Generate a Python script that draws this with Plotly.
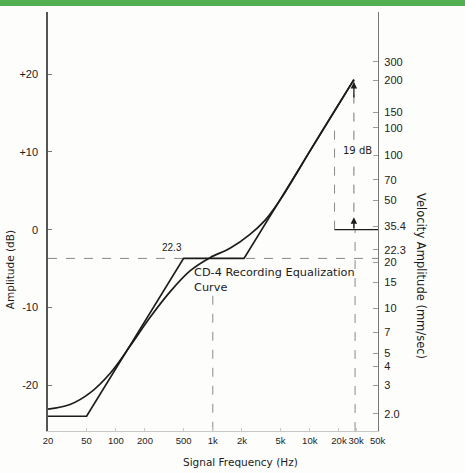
import plotly.graph_objects as go
import math

# ---- data ----
asym_freq = [20, 50, 500, 2100, 28500]
asym_db = [-24.0, -24.0, -3.7, -3.7, 19.3]

smooth_freq = [20, 33.7, 54.2, 87.1, 140, 225, 362, 582, 936, 1504, 2418, 3452, 4931, 7038, 10000, 20000, 28500]
smooth_db = [-23.1, -22.5, -21.0, -18.5, -15.0, -11.3, -8.0, -5.3, -3.6, -2.4, -0.6, 1.2, 3.8, 6.9, 10.1, 16.2, 19.3]

x_tick_vals = [20, 50, 100, 200, 500, 1000, 2000, 5000, 10000, 20000, 30000, 50000]
x_tick_text = ["20", "50", "100", "200", "500", "1k", "2k", "5k", "10k", "20k", "30k", "50k"]

left_tick_vals = [-20, -10, 0, 10, 20]
left_tick_text = ["-20", "-10", "0", "+10", "+20"]

right_tick_db = [21.6, 19.2, 15.1, 13.1, 9.6, 6.4, 3.8, 0.4, -2.6, -4.2, -6.8, -10.1, -13.2, -15.9, -17.6, -20.0, -23.7]
right_tick_text = ["300", "200", "150", "100", "100", "70", "50", "35.4", "22.3", "20", "15", "10", "7", "5", "4", "3", "2.0"]

ref_level_db = -3.7       # 22.3 mm/sec level
zero_level_db = 0.0       # 35.4 mm/sec level
top_db = 19.3
y_range = [-25.9, 28.0]
x_range = [20, 50500]

FONT = "Liberation Sans, Arial, sans-serif"
WIDE = "DejaVu Sans, Verdana, sans-serif"
INK = "#1c1c1c"
GREY = "#8a8a8a"
BG = "#fdfdfb"

fig = go.Figure()

def ref_line(xs, ys, color=GREY, width=1, dash="dash"):
    fig.add_trace(go.Scatter(x=xs, y=ys, mode="lines", line=dict(color=color, width=width, dash=dash),
                             hoverinfo="skip", showlegend=False))

# reference (dashed) lines
ref_line([x_range[0], x_range[1]], [ref_level_db, ref_level_db])
ref_line([1000, 1000], [-8.5, y_range[0]])
ref_line([18000, 18000], [zero_level_db, 13.7])
ref_line([29300, 29300], [y_range[0], zero_level_db])
ref_line([28500, 28500], [zero_level_db, top_db], color="#777")
# 35.4 level solid line
ref_line([18000, x_range[1]], [zero_level_db, zero_level_db], color=INK, width=1.3, dash="solid")

# curves
fig.add_trace(go.Scatter(x=asym_freq, y=asym_db, mode="lines",
                         line=dict(color=INK, width=1.7), showlegend=False))
fig.add_trace(go.Scatter(x=smooth_freq, y=smooth_db, mode="lines", line_shape="spline",
                         line=dict(color=INK, width=1.7), showlegend=False))

# invisible trace for right axis
fig.add_trace(go.Scatter(x=[x_range[0]], y=[0], yaxis="y2", mode="markers",
                         marker=dict(opacity=0), hoverinfo="skip", showlegend=False))

lx = math.log10

def txt(text, x, y, size, family=FONT, **kw):
    d = dict(text=text, x=x, y=y, showarrow=False, xanchor=kw.pop("xanchor", "center"),
             yanchor="middle", font=dict(size=size, family=family, color=INK))
    d.update(kw)
    return d

fig.update_layout(
    width=465, height=473,
    margin=dict(l=48, r=87, t=12, b=42),
    paper_bgcolor=BG, plot_bgcolor=BG,
    font=dict(family=FONT, color=INK, size=11),
    xaxis=dict(type="log", range=[lx(x_range[0]), lx(x_range[1])],
               tickvals=x_tick_vals, ticktext=x_tick_text, tickangle=0,
               showgrid=False, zeroline=False, showline=True, linecolor="#c8c8c8", linewidth=1,
               ticks="inside", ticklen=3, tickcolor="#c8c8c8", ticklabelstandoff=1,
               tickfont=dict(size=9.5, color="#222")),
    yaxis=dict(range=y_range, tickvals=left_tick_vals, ticktext=left_tick_text,
               showgrid=False, zeroline=False, showline=True, linecolor="#555", linewidth=1.5,
               ticks="inside", ticklen=4, tickcolor="#777", ticklabelstandoff=6,
               tickfont=dict(size=11, color="#222")),
    yaxis2=dict(range=y_range, overlaying="y", side="right",
                tickvals=right_tick_db, ticktext=right_tick_text,
                showgrid=False, zeroline=False, showline=True, linecolor="#777", linewidth=1.3,
                ticks="inside", ticklen=5, tickcolor="#999", ticklabelstandoff=3,
                tickfont=dict(size=11, color="#222")),
    shapes=[dict(type="rect", xref="paper", yref="paper", x0=-0.2, x1=1.3,
                 y0=1.0143, y1=1.04, fillcolor="#52b052", line=dict(width=0), layer="above")],
    annotations=[
        txt("Amplitude (dB)", -0.115, 0.384, 10.5, WIDE, xref="paper", yref="paper", textangle=-90),
        txt("Velocity Amplitude (mm/sec)", 1.13, 0.37, 11.5, WIDE, xref="paper", yref="paper", textangle=90),
        txt("Signal Frequency (Hz)", 0.582, -0.074, 10.5, WIDE, xref="paper", yref="paper"),
        txt("22.3", lx(380), -2.25, 10),
        txt("CD-4 Recording Equalization", lx(615), -5.5, 11.3, WIDE, xanchor="left"),
        txt("Curve", lx(615), -7.4, 11.3, WIDE, xanchor="left"),
        txt("19 dB", lx(30700), 10.2, 10, WIDE, bgcolor=BG),
        dict(text="", x=lx(28500), y=top_db - 0.3, ax=lx(28500), ay=top_db - 2.5,
             axref="x", ayref="y", showarrow=True, arrowhead=2, arrowsize=1, arrowwidth=1.3,
             arrowcolor=INK),
        dict(text="", x=lx(28500), y=1.6, ax=lx(28500), ay=0.0,
             axref="x", ayref="y", showarrow=True, arrowhead=2, arrowsize=1, arrowwidth=1.3,
             arrowcolor=INK),
    ],
)

fig.write_html("out.html")
